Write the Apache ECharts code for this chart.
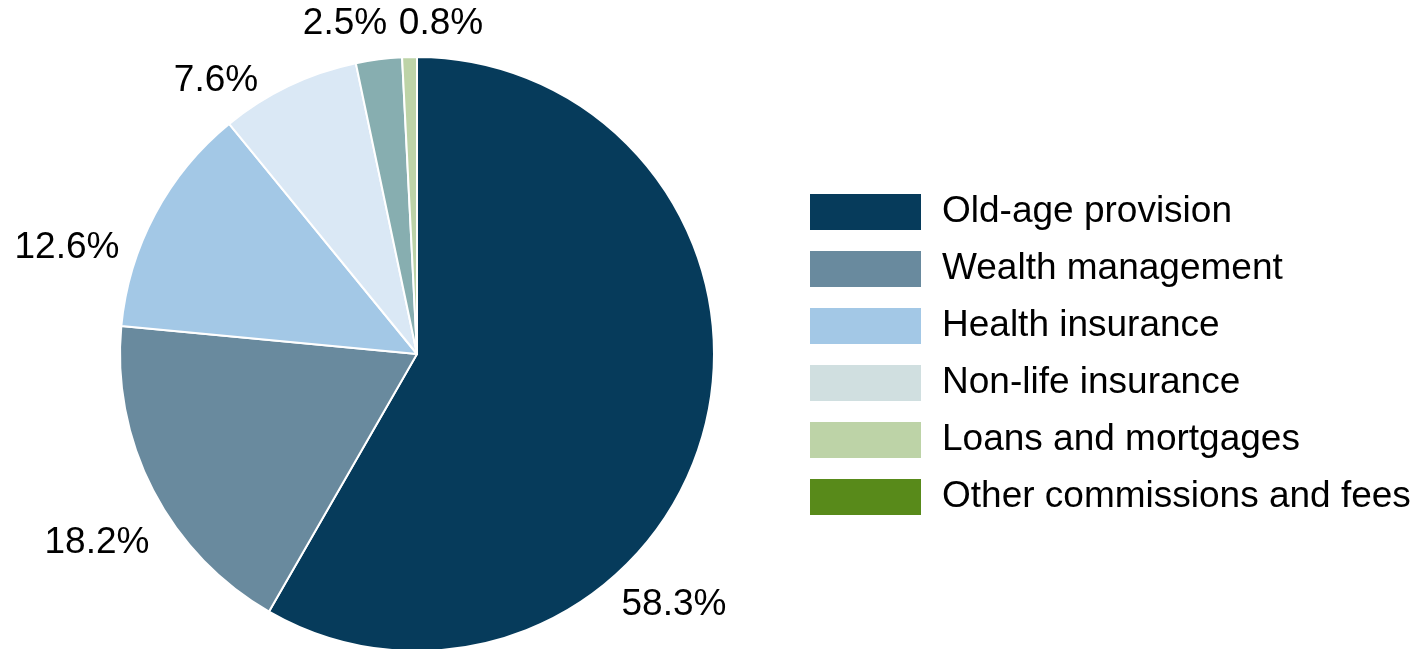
<!DOCTYPE html>
<html>
<head>
<meta charset="utf-8">
<script src="https://cdn.jsdelivr.net/npm/echarts@6/dist/echarts.min.js"></script>
<style>
html,body{margin:0;padding:0;background:#fff;}
#chart{width:1423px;height:649px;}
</style>
</head>
<body>
<div id="chart"></div>
<script>
var categories = ['Old-age provision', 'Wealth management', 'Health insurance', 'Non-life insurance', 'Loans and mortgages', 'Other commissions and fees'];
var shares = [58.3, 18.2, 12.6, 7.6, 2.5, 0.8];
var sliceColors = ['#063b5b', '#698a9e', '#a3c8e6', '#dae8f5', '#87aeb0', '#bdd3a7'];
var legendColors = ['#063b5b', '#698a9e', '#a3c8e6', '#d0dfe0', '#bdd3a7', '#588a1a'];

var cx = 417, cy = 354;
// label centre offsets relative to pie centre
var labelOffsets = [[257, 251], [-320, 189], [-350, -106], [-201, -273], [-72, -330], [24, -330]];

var chart = echarts.init(document.getElementById('chart'), null, {renderer: 'canvas'});
var FONT = 'Liberation Sans, Arial, sans-serif';

chart.setOption({
  animation: false,
  backgroundColor: '#ffffff',
  legend: {
    orient: 'vertical',
    left: 808,
    top: 192,
    padding: 0,
    itemWidth: 113,
    itemHeight: 38,
    itemGap: 17,
    icon: 'rect',
    selectedMode: false,
    textStyle: {fontFamily: FONT, fontSize: 37, lineHeight: 38, color: '#000', padding: [0, 0, 0, 15]},
    data: categories.map(function (c, i) {
      return {name: c, itemStyle: {color: legendColors[i]}};
    })
  },
  series: [{
    type: 'pie',
    center: [cx, cy],
    radius: 297,
    startAngle: 90,
    clockwise: true,
    avoidLabelOverlap: false,
    itemStyle: {borderColor: '#ffffff', borderWidth: 2},
    label: {
      show: true,
      position: 'outside',
      fontFamily: FONT,
      fontSize: 37,
      color: '#000',
      formatter: function (p) { return p.value.toFixed(1) + '%'; }
    },
    labelLine: {show: false},
    labelLayout: function (params) {
      var o = labelOffsets[params.dataIndex];
      return {x: cx + o[0], y: cy + o[1], align: 'center', verticalAlign: 'middle'};
    },
    emphasis: {disabled: true},
    data: categories.map(function (c, i) {
      return {name: c, value: shares[i], itemStyle: {color: sliceColors[i]}};
    })
  }]
});
</script>
</body>
</html>
